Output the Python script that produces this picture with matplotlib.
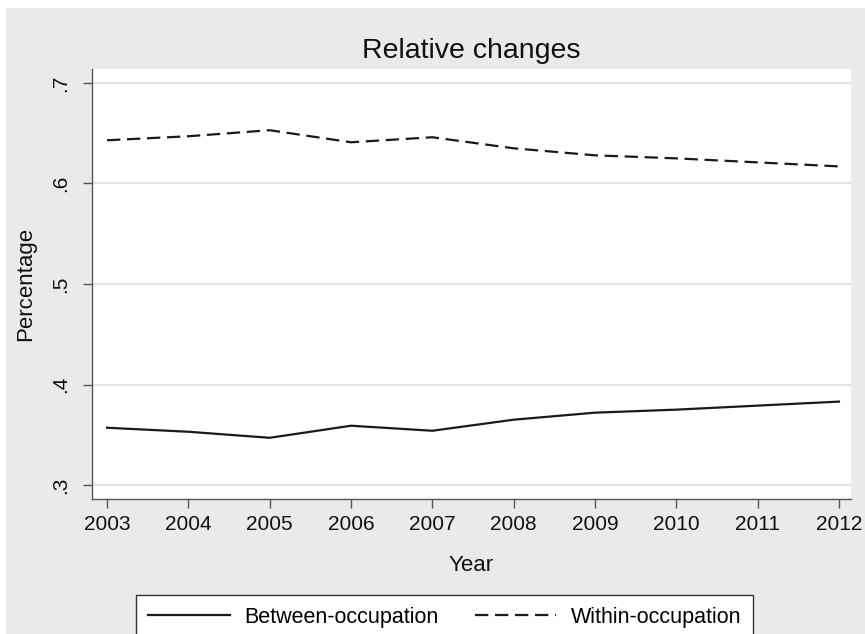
import matplotlib
matplotlib.use('Agg')
import matplotlib.pyplot as plt
from matplotlib.patches import Rectangle

# data
years = [2003, 2004, 2005, 2006, 2007, 2008, 2009, 2010, 2011, 2012]
within = [0.643, 0.647, 0.653, 0.641, 0.646, 0.635, 0.628, 0.625, 0.621, 0.617]
between = [0.357, 0.353, 0.347, 0.359, 0.354, 0.365, 0.372, 0.375, 0.379, 0.383]
y_ticks = [0.3, 0.4, 0.5, 0.6, 0.7]
y_tick_labels = ['.3', '.4', '.5', '.6', '.7']

plt.rcParams['font.family'] = ['Liberation Sans', 'DejaVu Sans']

bg = '#eaeaea'
fig = plt.figure(figsize=(8.65, 6.34), dpi=100, facecolor='white')
# gray graph region (small white strip at top and left as in the scan)
fig.patches.append(Rectangle((6 / 865, 0), 1, 1 - 8 / 634, transform=fig.transFigure,
                             facecolor=bg, edgecolor='none', zorder=-1))

ax = fig.add_axes([92 / 865, 1 - 499 / 634, (851 - 92) / 865, (499 - 69) / 634])
ax.set_facecolor('white')

ax.plot(years, between, color='#1a1a1a', lw=1.6, label='Between-occupation')
ax.plot(years, within, color='#1a1a1a', lw=1.6, dashes=(6, 3), label='Within-occupation')

ax.set_xlim(2002.815, 2012.148)
ax.set_ylim(0.2861, 0.7139)
ax.set_xticks(years)
ax.set_yticks(y_ticks)
ax.set_yticklabels(y_tick_labels, rotation=90, va='center')

ax.grid(axis='y', color='#e0e0e0', lw=1.3)
ax.set_axisbelow(True)

for side in ['top', 'right']:
    ax.spines[side].set_visible(False)
for side in ['left', 'bottom']:
    ax.spines[side].set_color('#555555')
    ax.spines[side].set_linewidth(1.0)

ax.tick_params(axis='both', colors='#555555', labelcolor='#111111', labelsize=15,
               length=6.5, width=1.0, direction='out')
ax.tick_params(axis='y', pad=9)
ax.tick_params(axis='x', pad=5)

ax.set_title('Relative changes', fontsize=20.5, color='#111111', pad=8)
ax.set_xlabel('Year', fontsize=16, color='#111111', labelpad=15)
ax.set_ylabel('Percentage', fontsize=16, color='#111111', labelpad=11)

leg = fig.legend(loc='upper center', bbox_to_anchor=(444.5 / 865, 1 - 595 / 634),
                 ncol=2, fontsize=15.5, frameon=True, fancybox=False, framealpha=1,
                 borderaxespad=0, handlelength=3.8, handletextpad=0.65,
                 columnspacing=1.7, borderpad=0.55)
leg.get_frame().set_edgecolor('#333333')
leg.get_frame().set_linewidth(1.0)

fig.savefig('out.png', dpi=100, facecolor=fig.get_facecolor())
